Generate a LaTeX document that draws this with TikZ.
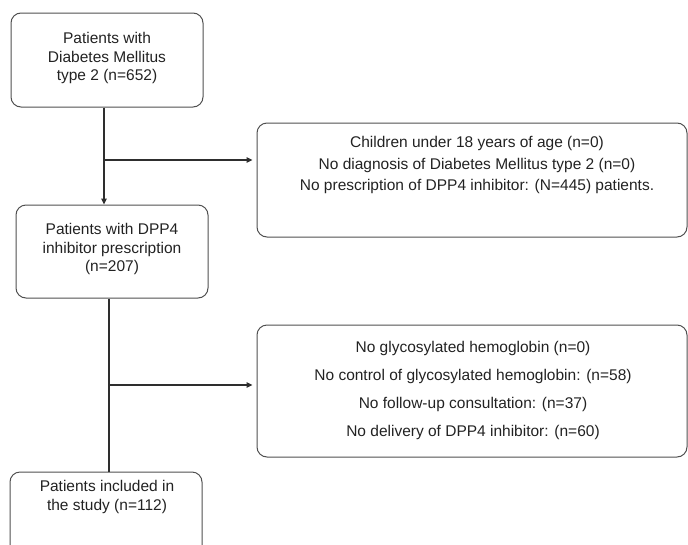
\documentclass[tikz,border=0pt]{standalone}
\usepackage{fontspec}
\setmainfont{Liberation Sans}
\usetikzlibrary{arrows.meta}
\definecolor{boxgray}{HTML}{505050}
\definecolor{linegray}{HTML}{2E2E2E}
\definecolor{textgray}{HTML}{222222}
\begin{document}
\begin{tikzpicture}[x=1pt,y=-1pt,
  box/.style={draw=boxgray, line width=1pt, rounded corners=10pt, inner sep=0pt},
  txt/.style={align=center, text=textgray, inner sep=0pt},
  conn/.style={draw=linegray, line width=1.1pt},
  arr/.style={conn, -{Triangle[length=6pt,width=5.5pt]}}]
\useasboundingbox (0,0) rectangle (688,544);
% boxes
\node[box, minimum width=192pt, minimum height=94pt] (b1) at (107,60) {};
\node[box, minimum width=430pt, minimum height=114pt] (b2) at (472,180) {};
\node[box, minimum width=192pt, minimum height=93pt] (b3) at (112,251.5) {};
\node[box, minimum width=430pt, minimum height=132pt] (b4) at (472,391) {};
\node[box, minimum width=192pt, minimum height=94pt] (b5) at (106,519) {};
% texts
\node[txt, font=\fontsize{15.5}{18.5}\selectfont] (t1) at (107,58) {Patients with\\Diabetes Mellitus\\type 2 (n=652)};
\node[txt, font=\fontsize{15.5}{21.5}\selectfont] (t2) at (477,165) {Children under 18 years of age (n=0)\\No diagnosis of Diabetes Mellitus type 2 (n=0)\\No prescription of DPP4 inhibitor: (N=445) patients.};
\node[txt, font=\fontsize{15.5}{18.5}\selectfont] (t3) at (112,249) {Patients with DPP4\\inhibitor prescription\\(n=207)};
\node[txt, font=\fontsize{15.5}{28}\selectfont] (t4) at (473,390.5) {No glycosylated hemoglobin (n=0)\\No control of glycosylated hemoglobin: (n=58)\\No follow-up consultation: (n=37)\\No delivery of DPP4 inhibitor: (n=60)};
\node[txt, font=\fontsize{15.5}{18.5}\selectfont] (t5) at (107,497) {Patients included in\\the study (n=112)};
% connectors
\coordinate (j1) at (104,160);
\draw[arr] (b1.south -| j1) -- (b3.north -| j1);
\draw[arr, shorten >=4pt] (j1) -- (b2.west |- j1);
\coordinate (j2) at (109,385);
\draw[conn] (b3.south -| j2) -- (b5.north -| j2);
\draw[arr, shorten >=4pt] (j2) -- (b4.west |- j2);
\end{tikzpicture}
\end{document}
